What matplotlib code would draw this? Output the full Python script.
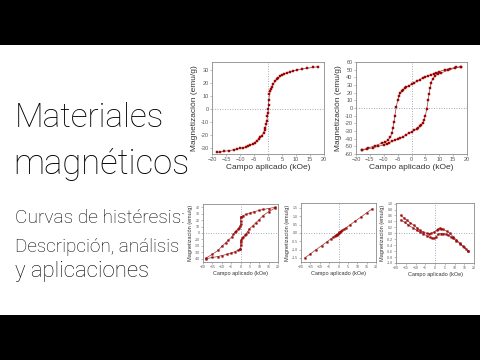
import matplotlib
matplotlib.use("Agg")
import matplotlib.pyplot as plt
from matplotlib import font_manager as fm
from matplotlib.patches import Rectangle

# ---------------- data ----------------
p1_field = [-18.2, -17, -15.8, -14, -12.3, -11, -10, -9, -8, -7, -6.4, -5.5, -4.8, -4, -3.3, -2.7,
            -2.2, -1.6, -1.2, -0.9, -0.6, -0.4, -0.2, 0, 0.1, 0.2, 0.3, 0.5, 0.8, 1.1, 1.4, 1.9,
            2.5, 3.1, 3.7, 4.3, 5, 5.8, 6.7, 7.7, 8.8, 10.2, 12, 13.8, 16, 18]
p1_mag = [-33.8, -33.4, -33.0, -32.4, -31.8, -31.2, -30.7, -30.2, -29.6, -28.9, -28.2, -27.3, -26.3,
          -25, -23.6, -22.2, -20.8, -18.8, -16.5, -15, -12, -9.6, -6, -3, 0, 3, 6.5, 11, 13.5, 15.5,
          17, 19, 21, 22.6, 23.9, 25, 26, 26.9, 27.6, 28.3, 29, 29.8, 30.5, 31.1, 31.8, 32.5]

p2_down_field = [18, 16, 14, 12, 10, 9, 8, 7, 6, 5, 4, 3, 2, 1, 0, -1, -2, -2.5, -3, -3.5, -4, -4.5,
                 -5, -5.5, -6, -6.3, -6.7, -7.1, -7.6, -8.5, -9.5, -10.8, -13, -15.5, -18]
p2_down_mag = [54, 53, 51.5, 50, 47.5, 46, 45, 43.5, 42, 40.5, 39, 37, 35, 33, 31, 29, 27, 25.5, 24,
               22, 20, 16, 10, 1, -10, -18, -26, -33, -38, -42, -44.5, -46, -49, -52, -55]
p2_up_field = [-18, -16, -14, -12, -10, -9, -8, -7, -6, -5, -4, -3, -2, -1, 0, 1, 2, 2.5, 3, 3.5, 4,
               4.5, 5, 5.5, 6, 6.3, 6.7, 7.1, 7.6, 8.5, 9.5, 10.8, 13, 15.5, 18]
p2_up_mag = [-55, -53.5, -52, -50, -48, -46.5, -45, -43.5, -42, -40.5, -39, -37.5, -35, -33, -31, -29,
             -27, -25.5, -24, -22, -20, -16, -10, -1, 10, 18, 26, 33, 38, 42, 44.5, 46, 49, 52, 54]

p3_down_field = [18.5, 15, 12, 10, 7, 5, 3, 1.5, 0.5, 0.1, 0, 0, -0.2, -0.8, -1.5, -2.3, -3, -3.8,
                 -4.7, -6.5, -8, -9.7, -12, -15, -18.5]
p3_down_mag = [40, 38, 36.5, 35, 33, 31, 29, 27, 25.5, 24.5, 19, 13.5, 11, 8.5, 6, 3.5, 1, -2, -6.5,
               -11, -15.5, -20, -27, -33, -39]
p3_up_field = [-18.5, -15, -12, -10, -7, -5, -3, -1.5, -0.5, -0.1, 0, 0, 0.2, 0.8, 1.5, 2.3, 3, 3.8,
               4.7, 6.5, 8, 9.7, 12, 15, 18.5]
p3_up_mag = [-40, -38, -36.5, -35, -33, -31, -29, -27, -25.5, -24.5, -19, -13.5, -11, -8.5, -6, -3.5,
             -1, 2, 6.5, 11, 15.5, 20, 27, 33, 39]

p4_field = [-18, -15, -12, -9, -6, -4, -3, -2, -1.5, -1, -0.5, 0, 0.5, 1, 1.5, 2, 3, 4, 6, 9, 12, 15, 18]
p4_mag = [-1.50, -1.26, -1.01, -0.77, -0.52, -0.35, -0.27, -0.18, -0.14, -0.10, -0.05, -0.01, 0.03,
          0.07, 0.11, 0.15, 0.23, 0.31, 0.47, 0.72, 0.96, 1.21, 1.45]

p5_up_field = [-17.6, -16, -14.6, -12.8, -11, -9.3, -7.7, -6, -4.3, -3, -1.8, -0.5, 0.8, 1.6, 2.5,
               3.3, 4.2, 6, 7.6, 9.3, 11, 12.7, 14.4, 15.7, 17]
p5_up_mag = [0.6, 0.52, 0.45, 0.36, 0.28, 0.19, 0.1, 0.04, 0.0, -0.01, 0.0, 0.04, 0.1, 0.14, 0.17,
             0.16, 0.13, 0.07, 0.0, -0.11, -0.22, -0.33, -0.44, -0.52, -0.6]
p5_low_field = [-17.6, -15.6, -13.7, -11.5, -9.4, -7.7, -6, -4.3, -2.6, -1.5, -0.4, 0.6, 1.6, 2.9,
                4.2, 5.5, 6.7, 8, 9.3, 11, 12.7, 14.8, 17]
p5_low_mag = [0.45, 0.37, 0.28, 0.19, 0.1, 0.04, -0.02, -0.08, -0.14, -0.16, -0.17, -0.11, -0.03,
              -0.01, -0.01, -0.03, -0.06, -0.11, -0.17, -0.26, -0.35, -0.47, -0.6]

title_lines = ["Materiales", "magnéticos", "Curvas de histéresis:", "Descripción, análisis", "y aplicaciones"]

xlabel_txt = "Campo aplicado (kOe)"
ylabel_txt = "Magnetización (emu/g)"

# ---------------- figure ----------------
W, H = 480, 360
fig = plt.figure(figsize=(4.8, 3.6), dpi=100)
fig.patch.set_facecolor("white")

# black bars
fig.patches.append(Rectangle((0, 1 - 45 / H), 1, 45 / H, transform=fig.transFigure,
                             facecolor="black", edgecolor="none", zorder=0))
fig.patches.append(Rectangle((0, 0), 1, 45 / H, transform=fig.transFigure,
                             facecolor="black", edgecolor="none", zorder=0))

names = {f.name for f in fm.fontManager.ttflist}
title_font = "Roboto" if "Roboto" in names else "DejaVu Sans"
axfont = "Liberation Sans" if "Liberation Sans" in names else "DejaVu Sans"

renderer = fig.canvas.get_renderer()


def fit_text(s, x_px, base_px, width_px):
    t = fig.text(x_px / W, 1 - base_px / H, s, fontsize=20, family=title_font, weight="light",
                 va="baseline", ha="left", color="#000000")
    w = t.get_window_extent(renderer).width
    t.set_fontsize(20 * width_px / w)
    return t


fit_text(title_lines[0], 15, 127, 150)
fit_text(title_lines[1], 13, 174, 177)
fit_text(title_lines[2], 15, 223, 170)
fit_text(title_lines[3], 15, 252, 165)
fit_text(title_lines[4], 15, 277, 134)

RED = "#c00000"
EDGE = "#7a0000"
LINE = "#9a3a3a"


def setup(ax, xlim, ylim, yticks, yfmt, tsize, lsize, ylabelpad):
    ax.set_xlim(*xlim)
    ax.set_ylim(*ylim)
    ax.set_xticks(range(-20, 21, 5))
    ax.set_yticks(yticks)
    ax.set_yticklabels([yfmt.format(v) for v in yticks])
    ax.axhline(0, color="#7f93aa", lw=0.6, ls=(0, (1, 2)), zorder=1)
    ax.axvline(0, color="#7f93aa", lw=0.6, ls=(0, (1, 2)), zorder=1)
    for s in ax.spines.values():
        s.set_color("#8a8a8a")
        s.set_linewidth(0.6)
    ax.tick_params(axis="both", direction="out", length=1.5, width=0.4, colors="#8a8a8a",
                   labelcolor="#555555", labelsize=tsize, pad=1)
    for lab in ax.get_xticklabels() + ax.get_yticklabels():
        lab.set_family(axfont)
    ax.set_xlabel(xlabel_txt, fontsize=lsize, family=axfont, color="#333333", labelpad=1)
    ax.set_ylabel(ylabel_txt, fontsize=lsize, family=axfont, color="#333333", labelpad=ylabelpad)


def series(ax, x, y, ms):
    ax.plot(x, y, color=LINE, lw=0.5, marker="s", ms=ms, mfc=RED, mec=EDGE, mew=0.3, zorder=3)


def px_axes(left, top, right, bottom):
    return fig.add_axes([left / W, 1 - bottom / H, (right - left) / W, (bottom - top) / H])


# plot 1
ax1 = px_axes(212, 62, 324, 154)
setup(ax1, (-20, 20), (-35, 36), list(range(-30, 31, 10)), "{:d}", 4, 6, 1.5)
series(ax1, p1_field, p1_mag, 1.7)

# plot 2
ax2 = px_axes(356, 62, 467, 154)
setup(ax2, (-20, 20), (-60, 60), list(range(-60, 61, 10)), "{:d}", 4, 6, 1.5)
series(ax2, p2_down_field, p2_down_mag, 1.7)
series(ax2, p2_up_field, p2_up_mag, 1.7)

# plot 3
ax3 = px_axes(203, 204, 278, 262)
setup(ax3, (-20, 20), (-45, 45), list(range(-40, 41, 10)), "{:d}", 2.5, 4, 1)
series(ax3, p3_down_field, p3_down_mag, 1.2)
series(ax3, p3_up_field, p3_up_mag, 1.2)

# plot 4
ax4 = px_axes(301, 203, 376, 262)
setup(ax4, (-20, 20), (-1.75, 1.8), [-1.5, -1.0, -0.5, 0.0, 0.5, 1.0, 1.5], "{:.1f}", 2.5, 4, 1)
series(ax4, p4_field, p4_mag, 1.2)

# plot 5
ax5 = px_axes(396, 203, 474, 263)
setup(ax5, (-20, 20), (-1.0, 1.02), [-1.0, -0.8, -0.6, -0.4, -0.2, 0.0, 0.2, 0.4, 0.6, 0.8, 1.0],
      "{:.1f}", 2.5, 4, 1)
series(ax5, p5_up_field, p5_up_mag, 1.2)
series(ax5, p5_low_field, p5_low_mag, 1.2)

fig.savefig("out.png", dpi=100, facecolor="white")
